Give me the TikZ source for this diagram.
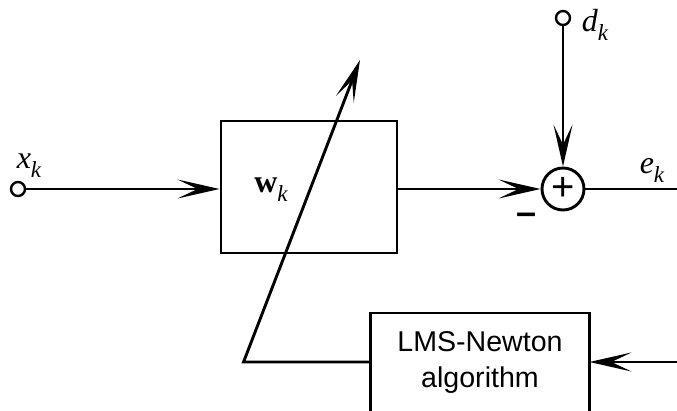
\documentclass[tikz,border=0pt]{standalone}
\usepackage{fontspec}
\setmainfont{Liberation Serif}
\setsansfont{Liberation Sans}
\usetikzlibrary{arrows.meta}

% sinal com indice: letra e subscrito bem rebaixado
\newcommand{\sinal}[2]{#1\raisebox{-4.5pt}{\fontsize{11.5}{11.5}\selectfont\itshape #2}}

\begin{document}
\begin{tikzpicture}[x=0.5pt,y=-0.5pt,line width=1.45pt,
  seta/.style={-{Stealth[length=21pt,width=9.5pt,inset=10pt]}},
  bloco/.style={draw,minimum width=88pt,minimum height=66pt,inner sep=0pt},
  terminal/.style={circle,draw,line width=1.2pt,minimum size=7pt,inner sep=0pt},
  rotulo/.style={font=\fontsize{16}{16}\selectfont,inner sep=0pt}]
  \useasboundingbox (0,0) rectangle (677,411);
  \clip (0,0) rectangle (677,411);

  % Entrada x_k e o filtro adaptativo w_k.
  \node[terminal] (xin) at (18,189) {};
  \node[rotulo] at (29,166) {\sinal{\textit{x}}{k}};
  \node[bloco] (filtro) at (309,187) {};
  \node[rotulo] (wk) at (271,190) {\sinal{\textbf{w}}{k}};
  \draw[seta] (xin) -- (filtro.west |- xin);

  % Somador com o sinal desejado d_k.
  \node[circle,draw,minimum size=21pt,inner sep=0pt,
        font=\sffamily\fontsize{20}{20}\selectfont] (soma) at (563,189) {+};
  \node[terminal] (dk) at (563,18) {};
  \node[rotulo] at (595,25) {\sinal{\textit{d}}{k}};
  \draw[seta] (dk) -- (soma);
  \draw[seta] (filtro.east |- soma) -- (soma);
  \node[inner sep=0pt,font=\sffamily\bfseries\fontsize{18}{18}\selectfont]
    (menos) at (527,219) {–};

  % Erro e_k na saida.
  \coordinate (saida) at (677,189);
  \draw (soma) -- (saida);
  \node[rotulo] at (652,170) {\sinal{\textit{e}}{k}};

  % Bloco do algoritmo, cortado na borda de baixo.
  \node[minimum width=108pt,inner sep=0pt,align=center,
        font=\sffamily\fontsize{14.3}{18}\selectfont] (lms) at (480,362)
    {LMS-Newton\\algorithm};
  \draw ([yshift=24.5pt]lms.west) rectangle ([yshift=-40pt]lms.east);

  % Realimentacao do erro e ajuste dos pesos.
  \coordinate (retorno) at (677,362);
  \draw[seta] (retorno) -- (lms.east);
  \coordinate (ajuste) at (360,60);
  \draw[seta] (lms.west) -- ++(-127,0) -- (ajuste);
\end{tikzpicture}
\end{document}
